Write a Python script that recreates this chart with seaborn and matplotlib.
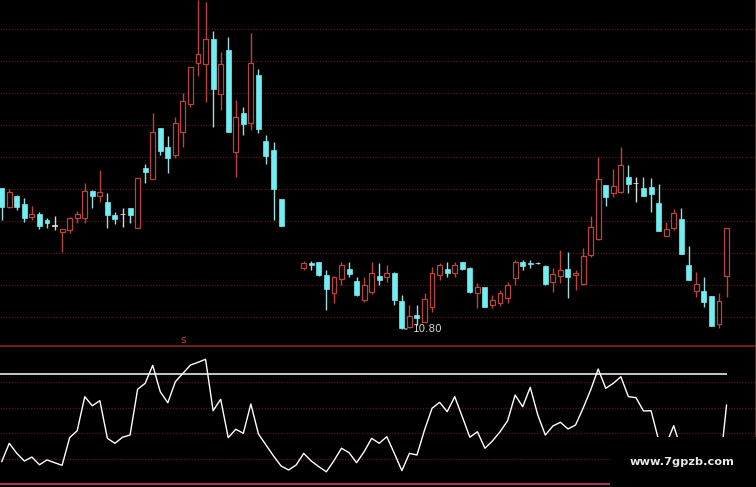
import numpy as np
import pandas as pd
import matplotlib
matplotlib.use("Agg")
import matplotlib.pyplot as plt
import seaborn as sns
from matplotlib.patches import Rectangle

# ==========================================================
# DATA
# ==========================================================

nan = float("nan")

opens = [15.03, 14.46, 14.79, 14.55, 14.16, 14.25, 14.07, 13.90, 13.71, 13.77,
         14.13, 14.13, 14.94, 14.79, 14.61, 14.22, 14.25, 14.43, 13.83, 15.63,
         15.30, 16.83, 16.26, 16.02, 16.71, 17.55, 18.78, 18.75, 19.50, 17.85,
         19.17, 16.11, 17.28, 16.98, 18.42, 16.44, 16.17, 14.70, nan, nan,
         12.63, 12.78, 12.81, 12.42, 11.88, 12.30, 12.60, 12.24, 11.67, 11.91,
         12.39, 12.36, 12.48, 11.64, 10.86, 11.22, 11.01, 11.46, 12.42, 12.60,
         12.48, 12.81, 12.63, 11.88, 12.06, 11.52, 11.58, 11.73, 12.33, 12.81,
         12.78, 12.78, 12.69, 12.21, 12.39, 12.60, 12.42, 12.15, 13.02, 13.50,
         15.12, 14.88, 14.91, 15.36, 15.18, 15.03, 15.06, 14.58, 13.59, 13.83,
         14.10, 12.72, 11.94, 11.94, 11.79, 10.95, 12.39]

highs = [15.03, 15.00, 14.82, 14.73, 14.49, 14.31, 14.13, 14.19, 13.80, 14.16,
         14.34, 15.18, 14.97, 15.57, 14.88, 14.31, 14.43, 14.43, 15.33, 15.75,
         17.28, 16.83, 16.59, 17.16, 17.88, 18.66, 20.66, 20.61, 19.74, 19.11,
         19.56, 17.67, 17.46, 19.68, 18.60, 16.62, 16.41, 14.70, nan, nan,
         12.84, 12.84, 12.81, 12.57, 12.39, 12.81, 12.81, 12.36, 12.36, 12.81,
         12.78, 12.72, 12.51, 11.82, 11.52, 11.52, 11.88, 12.66, 12.78, 12.81,
         12.81, 12.81, 12.66, 12.18, 12.06, 11.82, 11.97, 12.21, 12.87, 12.87,
         12.87, 12.81, 12.72, 12.63, 13.17, 13.11, 12.57, 13.23, 14.19, 15.96,
         15.12, 15.60, 16.26, 15.72, 15.36, 15.36, 15.33, 15.15, 14.01, 14.40,
         14.43, 13.29, 12.51, 12.36, 11.79, 11.88, 13.83]

lows = [14.07, 14.43, 14.37, 14.01, 14.07, 13.80, 13.83, 13.77, 13.11, 13.68,
        13.98, 13.98, 14.43, 14.61, 13.83, 13.95, 13.86, 13.98, 13.83, 15.18,
        15.30, 16.02, 15.48, 15.93, 16.26, 17.46, 18.39, 17.61, 16.86, 17.37,
        16.71, 15.36, 16.62, 16.77, 16.68, 15.75, 14.07, 13.89, nan, nan,
        12.57, 12.57, 12.39, 11.37, 11.58, 12.12, 12.36, 11.79, 11.61, 11.85,
        12.12, 12.21, 11.52, 10.80, 10.83, 10.92, 11.01, 11.31, 12.27, 12.36,
        12.36, 12.57, 11.88, 11.43, 11.46, 11.43, 11.49, 11.58, 12.12, 12.57,
        12.63, 12.75, 12.12, 11.91, 12.18, 11.73, 11.97, 12.12, 12.96, 13.47,
        14.49, 14.76, 14.88, 14.88, 14.61, 14.79, 14.31, 13.74, 13.59, 13.77,
        13.05, 12.27, 11.76, 11.46, 10.89, 10.83, 11.76]

closes = [14.46, 14.91, 14.46, 14.13, 14.25, 13.89, 13.98, 13.90, 13.80, 14.13,
          14.25, 14.94, 14.79, 14.91, 14.22, 14.10, 14.25, 14.22, 15.33, 15.51,
          16.71, 16.14, 15.93, 16.98, 17.64, 18.66, 19.05, 19.50, 18.00, 18.75,
          16.71, 17.16, 16.95, 18.78, 16.80, 15.99, 15.00, 13.89, nan, nan,
          12.78, 12.72, 12.42, 12.00, 12.36, 12.72, 12.45, 11.82, 12.12, 12.48,
          12.27, 12.48, 11.67, 10.83, 11.19, 11.13, 11.70, 12.48, 12.72, 12.48,
          12.72, 12.60, 11.91, 12.06, 11.46, 11.67, 11.88, 12.12, 12.81, 12.69,
          12.75, 12.78, 12.15, 12.45, 12.57, 12.36, 12.48, 12.99, 13.86, 15.30,
          14.76, 15.09, 15.72, 15.15, 15.18, 14.79, 14.85, 13.74, 13.80, 14.28,
          13.05, 12.27, 12.15, 11.61, 10.89, 11.64, 13.83]

indicator = [16.2, 29.6, 22.3, 16.7, 19.6, 14.0, 17.5, 15.5, 13.6, 33.7,
             38.8, 63.5, 56.9, 60.6, 33.2, 29.6, 34.0, 35.6, 68.9, 73.2,
             86.3, 67.1, 59.1, 74.4, 80.5, 86.5, 88.5, 90.7, 53.3, 61.6,
             33.7, 39.8, 36.9, 58.2, 36.4, 28.4, 20.4, 13.1, 10.2, 13.8,
             22.3, 16.7, 12.6, 8.9, 16.9, 26.0, 22.8, 15.5, 23.5, 33.2,
             29.6, 34.4, 22.3, 9.7, 22.3, 21.1, 39.3, 55.1, 59.4, 52.6,
             63.5, 48.9, 34.0, 38.0, 26.0, 31.3, 38.0, 46.0, 64.7, 56.2,
             70.3, 50.2, 35.6, 42.2, 44.9, 40.0, 42.9, 55.1, 68.4, 83.6,
             69.6, 73.2, 78.0, 63.5, 62.8, 53.1, 53.3, 32.0, 28.7, 42.4,
             24.9, 21.1, 17.5, 18.9, 13.1, 5.8, 57.5]

price_grid = [11.16, 12.12, 13.08, 14.04, 15.00, 15.96, 16.92, 17.88, 18.84, 19.80]
ind_grid = [18.5, 37.0, 55.5, 74.0]
ref_level = 80
low_label = "10.80"
signal_label = "s"
signal_day = 24
watermark = "www.7gpzb.com"

# ==========================================================
# STYLE
# ==========================================================

sns.set_style("dark", {"axes.facecolor": "black", "figure.facecolor": "black"})

UP = "#b8443c"
DOWN = "#72eef2"
DOWN_WICK = "#a0dcdf"
DOJI = "#d8d8d8"
GRID = "#4a1818"

df = pd.DataFrame({"open": opens, "high": highs, "low": lows, "close": closes})
df["day"] = np.arange(len(df))
df = df.dropna()

up = df[df["close"] > df["open"]]
down = df[df["close"] < df["open"]]
doji = df[df["close"] == df["open"]]

fig = plt.figure(figsize=(7.56, 4.87), dpi=100, facecolor="black")
ax1 = fig.add_axes([0, 141 / 487, 1, 346 / 487])
ax2 = fig.add_axes([0, 0, 1, 141 / 487])

xlim = (-0.225, 99.9)

# ==========================================================
# PRICE PANEL
# ==========================================================

ax1.vlines(up["day"], up["low"], up["high"], color=UP, linewidth=1.0, zorder=2)
ax1.vlines(down["day"], down["low"], down["high"], color=DOWN_WICK, linewidth=1.0, zorder=2)
ax1.vlines(doji["day"], doji["low"], doji["high"], color=DOJI, linewidth=1.0, zorder=2)

ax1.bar(up["day"], up["close"] - up["open"], bottom=up["open"], width=0.64,
        facecolor="black", edgecolor=UP, linewidth=0.9, zorder=3)
ax1.bar(down["day"], down["open"] - down["close"], bottom=down["close"], width=0.66,
        facecolor=DOWN, edgecolor=DOWN, linewidth=0.5, zorder=3)
ax1.bar(doji["day"], 0.02, bottom=doji["open"] - 0.01, width=0.66,
        facecolor=DOJI, edgecolor=DOJI, linewidth=0.6, zorder=3)

low_day = int(df.loc[df["low"].idxmin(), "day"])
low_val = df["low"].min()
ax1.annotate(low_label, xy=(low_day, low_val), xytext=(low_day + 1.5, low_val),
             color="#d4d4d4", fontsize=7.5, va="center", ha="left",
             arrowprops=dict(arrowstyle="-", color="#d4d4d4", lw=0.8))

ax1.text(signal_day, 10.47, signal_label, color="#d84040", fontsize=7.5,
         ha="center", va="center")

ax1.set_xlim(xlim)
ax1.set_ylim(10.29, 20.67)
ax1.set_yticks(price_grid)
ax1.set_xticks([])
ax1.grid(axis="y", color=GRID, linestyle=(0, (1, 1)), linewidth=1.0)
ax1.grid(axis="x", visible=False)
ax1.tick_params(left=False, bottom=False, labelleft=False, labelbottom=False)
for side in ["top", "left", "bottom"]:
    ax1.spines[side].set_visible(False)
ax1.spines["right"].set_color("#8a2424")
ax1.spines["right"].set_linewidth(1.2)

# ==========================================================
# INDICATOR PANEL
# ==========================================================

sns.lineplot(x=np.arange(len(indicator)), y=indicator, ax=ax2,
             color="white", linewidth=1.0, zorder=4)

ax2.hlines(ref_level, xlim[0], len(indicator) - 1, color="#d6d6d6", linewidth=1.3, zorder=3)
ax2.axhline(0, color="#9c3c58", linewidth=1.6, zorder=3)

ax2.add_patch(Rectangle((610 / 756, 0), 146 / 756, 50 / 141, transform=ax2.transAxes,
                        facecolor="black", edgecolor="none", zorder=10, clip_on=False))
ax2.text(682 / 756, 25 / 141, watermark, transform=ax2.transAxes, color="#e8e8e8",
         fontsize=8.2, fontweight="bold", ha="center", va="center", zorder=11)

ax2.set_xlim(xlim)
ax2.set_ylim(-2.18, 100.36)
ax2.set_yticks(ind_grid)
ax2.set_xticks([])
ax2.grid(axis="y", color=GRID, linestyle=(0, (1, 1)), linewidth=1.0)
ax2.grid(axis="x", visible=False)
ax2.tick_params(left=False, bottom=False, labelleft=False, labelbottom=False)
ax2.set_xlabel("")
ax2.set_ylabel("")
for side in ["left", "bottom"]:
    ax2.spines[side].set_visible(False)
ax2.spines["top"].set_color("#8a2424")
ax2.spines["top"].set_linewidth(1.2)
ax2.spines["right"].set_color("#8a2424")
ax2.spines["right"].set_linewidth(1.2)

fig.savefig("out.png", dpi=100, facecolor="black")
